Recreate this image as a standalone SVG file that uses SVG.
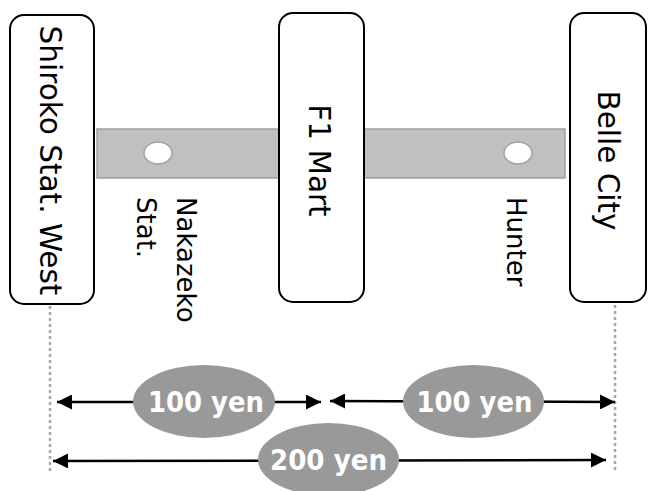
<svg xmlns="http://www.w3.org/2000/svg" width="648" height="491" viewBox="0 0 648 491">
<style>
.box{fill:#fff;stroke:#000;stroke-width:2}
.lbl{font-family:"DejaVu Sans",Verdana,sans-serif;font-size:29.5px;fill:#000}
.st{font-family:"DejaVu Sans",Verdana,sans-serif;font-size:26px;fill:#000}
.dot{stroke:#a6a6a6;stroke-width:2.5;stroke-dasharray:3 3;fill:none}
.arr{stroke:#000;stroke-width:2.5;fill:none;marker-start:url(#ah);marker-end:url(#ah)}
.oval{fill:#999}
.price{font-family:"DejaVu Sans",Verdana,sans-serif;font-weight:bold;font-size:28px;fill:#fff}
</style>
<defs>
<marker id="ah" viewBox="0 0 10 10" refX="10" refY="5" markerWidth="6" markerHeight="6" orient="auto-start-reverse" markerUnits="strokeWidth">
<path d="M0,0 L10,5 L0,10 Z" fill="#000"/>
</marker>
</defs>
<g id="bar">
<rect x="97" y="129" width="468" height="49" fill="#c0c0c0" stroke="#a0a0a0" stroke-width="1.5"/>
</g>
<g id="nakazeko">
<ellipse cx="158" cy="153" rx="14" ry="11" fill="#fff" stroke="#a0a0a0" stroke-width="1.5"/>
<text class="st" transform="translate(177,197) rotate(90)">Nakazeko</text>
<text class="st" transform="translate(137,197) rotate(90)">Stat.</text>
</g>
<g id="hunter">
<ellipse cx="518" cy="153" rx="14" ry="11" fill="#fff" stroke="#a0a0a0" stroke-width="1.5"/>
<text class="st" transform="translate(507,197) rotate(90)">Hunter</text>
</g>
<g id="shiroko">
<rect class="box" x="10" y="15" width="84" height="289" rx="14"/>
<text class="lbl" text-anchor="middle" transform="translate(40,160.5) rotate(90)">Shiroko Stat. West</text>
</g>
<g id="f1mart">
<rect class="box" x="279" y="13" width="85" height="289" rx="14"/>
<text class="lbl" text-anchor="middle" transform="translate(309,160.5) rotate(90)">F1 Mart</text>
</g>
<g id="bellecity">
<rect class="box" x="570" y="13" width="76" height="289" rx="14"/>
<text class="lbl" text-anchor="middle" transform="translate(598,160.5) rotate(90)">Belle City</text>
</g>
<g id="connectors">
<line class="dot" x1="50" y1="306" x2="50" y2="473"/>
<line class="dot" x1="615" y1="305" x2="615" y2="473"/>
<line class="arr" x1="57" y1="402" x2="321" y2="402"/>
<line class="arr" x1="330" y1="401" x2="615" y2="402"/>
<line class="arr" x1="53" y1="461" x2="606" y2="460"/>
</g>
<g id="p1">
<ellipse class="oval" cx="204" cy="401.5" rx="71" ry="36.5"/>
<text class="price" x="206" y="412" text-anchor="middle" textLength="116" lengthAdjust="spacingAndGlyphs">100 yen</text>
</g>
<g id="p2">
<ellipse class="oval" cx="473.5" cy="401.5" rx="70.5" ry="36.5"/>
<text class="price" x="474.5" y="412" text-anchor="middle" textLength="116" lengthAdjust="spacingAndGlyphs">100 yen</text>
</g>
<g id="p3">
<ellipse class="oval" cx="328.5" cy="459.5" rx="70.5" ry="36.5"/>
<text class="price" x="328.5" y="470" text-anchor="middle" textLength="117" lengthAdjust="spacingAndGlyphs">200 yen</text>
</g>
</svg>
